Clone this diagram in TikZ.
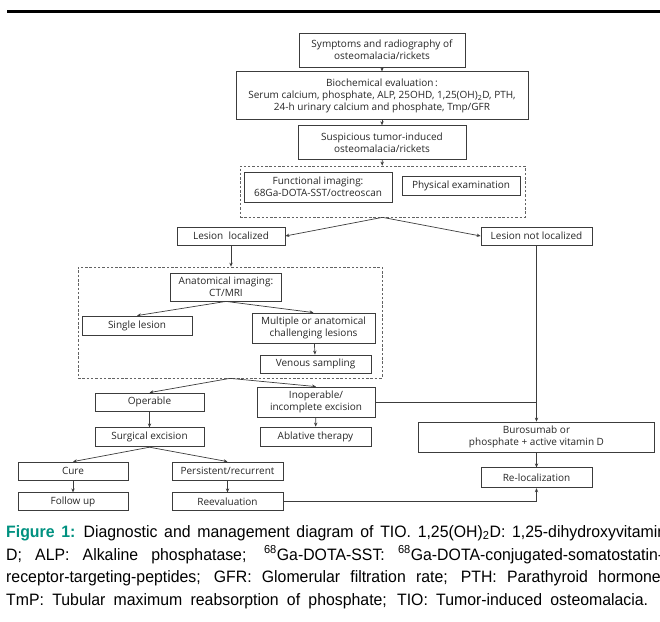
\documentclass[tikz,border=0pt]{standalone}
\usepackage{fontspec}
\usetikzlibrary{arrows.meta, positioning}
\newfontfamily\flowfont{Open Sans}
\newfontfamily\capfont{Liberation Sans}[FakeStretch=0.96]
\definecolor{figteal}{RGB}{0,145,128}
\definecolor{linegray}{RGB}{60,60,60}

\begin{document}
\begin{tikzpicture}[
    x=1pt, y=-1pt,
    box/.style={rectangle, draw=linegray, line width=0.8pt, inner sep=0pt, align=center, font=\flowfont\fontsize{10}{12.3}\selectfont, text=black!85},
    groupbox/.style={rectangle, draw=linegray!80, dashed, dash pattern=on 2.5pt off 1.8pt, line width=0.7pt, inner sep=0pt},
    arrow/.style={-{Stealth[length=4pt, width=3.4pt]}, line width=0.7pt, linegray},
    joinline/.style={line width=0.7pt, linegray},
    capline/.style={anchor=base west, inner sep=0pt, font=\capfont\fontsize{16.5}{18}\selectfont}
]
\useasboundingbox (0,0) rectangle (660,621);

% Top rule
\draw[line width=2.8pt] (7,11.5) -- (660,11.5);

% Diagnosis
\node[box, minimum width=166pt, minimum height=34pt] (symptoms) at (382,50) {Symptoms and radiography of\\osteomalacia/rickets};
\node[box, minimum width=292pt, minimum height=48pt, below=4pt of symptoms] (biochem) {Biochemical evaluation\,:\\Serum calcium, phosphate, ALP, 25OHD, 1,25(OH)\textsubscript{2}D, PTH,\\24-h urinary calcium and phosphate, Tmp/GFR};
\node[box, minimum width=168pt, minimum height=34pt, below=5pt of biochem] (suspect) {Suspicious tumor-induced\\osteomalacia/rickets};

% Localization
\node[groupbox, minimum width=285pt, minimum height=51pt] (imaging) at (382.5,191.5) {};
\node[box, minimum width=148pt, minimum height=30pt] (functional) at (318,187) {Functional imaging:\\68Ga-DOTA-SST/octreoscan};
\node[box, minimum width=118pt, minimum height=19pt] (physical) at (461,185.5) {Physical examination};
\node[box, minimum width=108pt, minimum height=18pt] (localized) at (231,236) {Lesion~ localized};
\node[box, minimum width=111pt, minimum height=18pt] (notlocalized) at (536.5,236) {Lesion not localized};

% Anatomical imaging
\node[groupbox, minimum width=304pt, minimum height=111pt] (anatgroup) at (230,322.5) {};
\node[box, minimum width=111pt, minimum height=28pt] (anatomical) at (226,287) {Anatomical imaging:\\CT/MRI};
\node[box, minimum width=110pt, minimum height=19pt] (single) at (137,325.5) {Single lesion};
\node[box, minimum width=123pt, minimum height=30pt] (multiple) at (313.5,328) {Multiple or anatomical\\challenging lesions};
\node[box, minimum width=111pt, minimum height=18pt] (venous) at (315.5,364) {Venous sampling};

% Treatment
\node[box, minimum width=109pt, minimum height=18pt] (operable) at (149.5,402) {Operable};
\node[box, minimum width=109pt, minimum height=19pt, below=16pt of operable] (surgery) {Surgical excision};
\node[box, minimum width=118pt, minimum height=30pt] (inoperable) at (316,402) {Inoperable/\\incomplete excision};
\node[box, minimum width=111pt, minimum height=19pt] (ablative) at (315.5,436.5) {Ablative therapy};
\node[box, minimum width=110pt, minimum height=18pt] (cure) at (73,471) {Cure};
\node[box, minimum width=110pt, minimum height=18pt, below=12pt of cure] (followup) {Follow up};
\node[box, minimum width=111pt, minimum height=18pt] (persistent) at (227.5,471) {Persistent/recurrent};
\node[box, minimum width=111pt, minimum height=18pt, below=12pt of persistent] (reeval) {Reevaluation};
\node[box, minimum width=236pt, minimum height=30pt] (burosumab) at (536.5,437) {Burosumab or\\phosphate + active vitamin D};
\node[box, minimum width=111pt, minimum height=20pt, below=15pt of burosumab] (reloc) {Re-localization};

% Arrows
\draw[arrow] (symptoms) -- (biochem);
\draw[arrow] (biochem) -- (suspect);
\draw[arrow] (suspect) -- (imaging);
\draw[arrow] (imaging.south) -- (localized.east);
\draw[arrow] (imaging.south) -- (notlocalized.west);
\draw[arrow] (localized.south) -- (localized.south |- anatgroup.north);
\draw[arrow] (anatomical.south) -- (single.north);
\draw[arrow] (anatomical.south) -- (multiple.north);
\draw[arrow] (multiple) -- (venous);
\draw[arrow] (anatgroup.south) -- (operable.north);
\draw[arrow] (anatgroup.south) -- (inoperable.north);
\draw[arrow] (operable) -- (surgery);
\draw[arrow] (inoperable) -- (ablative);
\draw[arrow] (surgery.south) -- (cure.north);
\draw[arrow] (surgery.south) -- (persistent.north);
\draw[arrow] (cure) -- (followup);
\draw[arrow] (persistent) -- (reeval);
\draw[arrow] (notlocalized) -- (burosumab);
\draw[joinline] (inoperable.east) -- (inoperable.east -| burosumab.north);
\draw[arrow] (burosumab) -- (reloc);
\draw[arrow] (reeval.east) -| (reloc.south);

% Caption
\node[capline] (cap1) at (6,537) {\makebox[660pt][s]{{\color{figteal}\bfseries Figure 1:}\enspace Diagnostic and management diagram of TIO. 1,25(OH)\textsubscript{2}D: 1,25-dihydroxyvitamin}};
\node[capline] (cap2) at (6,560) {\makebox[657pt][s]{D; ALP: Alkaline phosphatase; \textsuperscript{68}Ga-DOTA-SST: \textsuperscript{68}Ga-DOTA-conjugated-somatostatin-}};
\node[capline] (cap3) at (6,582) {\makebox[659pt][s]{receptor-targeting-peptides; GFR: Glomerular filtration rate; PTH: Parathyroid hormone;}};
\node[capline] (cap4) at (6,605) {\makebox[642pt][s]{TmP: Tubular maximum reabsorption of phosphate; TIO: Tumor-induced osteomalacia.}};
\end{tikzpicture}
\end{document}
